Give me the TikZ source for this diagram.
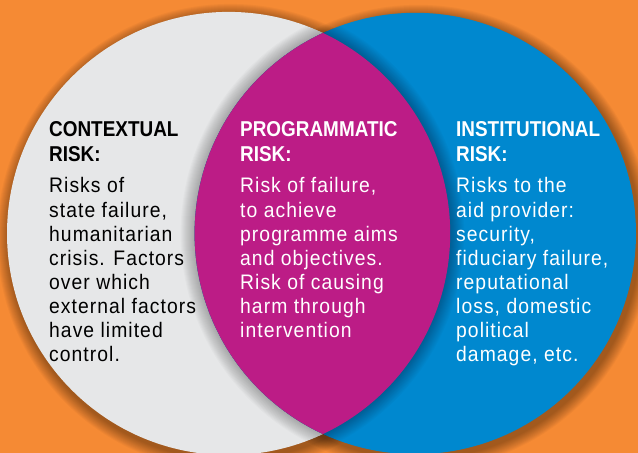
\documentclass[tikz,border=0pt]{standalone}
\usepackage{fontspec}
\usetikzlibrary{calc}
\setmainfont{Liberation Sans}
\newfontfamily\headfont{Liberation Sans Bold}[FakeStretch=0.88]
\newfontfamily\bodyfont{Liberation Sans}[FakeStretch=0.92,LetterSpace=5]
\definecolor{bgorange}{HTML}{F58A34}
\definecolor{ctxgray}{HTML}{E6E7E8}
\definecolor{progmag}{HTML}{BC1C86}
\definecolor{instblue}{HTML}{0088CF}
\tikzset{
  headtext/.style={anchor=base west, inner sep=0pt, font=\headfont\fontsize{21.5}{24.5}\selectfont},
  bodytext/.style={anchor=base west, inner sep=0pt, font=\bodyfont\fontsize{21}{24.1}\selectfont},
  outshadow/.style={fill=black, fill opacity=0.03},
  inshadow/.style={fill=black, fill opacity=0.02}
}
\begin{document}
\begin{tikzpicture}[x=1pt,y=1pt]
\fill[bgorange] (0,0) rectangle (638,453);
\useasboundingbox (0,0) rectangle (638,453);
\coordinate (c1) at (228.6,219.5);
\coordinate (c2) at (415.3,219.5);
\def\rA{221.6}
\def\rB{220.7}
% outer drop shadow
\foreach \k in {0,...,11}{
  \fill[outshadow] ($(c1)+(2,-4)$) circle ({\rA+12-\k});
  \fill[outshadow] ($(c2)+(3,-4)$) circle ({\rB+12-\k});
}
% gray circle
\fill[ctxgray] (c1) circle (\rA);
% shadow of blue edge on gray
\begin{scope}
  \clip (c1) circle (\rA);
  \foreach \k in {1,...,14}{\fill[inshadow] (c2) circle ({\rB+\k});}
\end{scope}
% blue circle
\fill[instblue] (c2) circle (\rB);
% shadow of gray edge on blue
\begin{scope}
  \clip (c2) circle (\rB);
  \foreach \k in {1,...,14}{\fill[inshadow] (c1) circle ({\rA+\k});}
\end{scope}
% magenta lens
\begin{scope}
  \clip (c1) circle (\rA);
  \fill[progmag] (c2) circle (\rB);
\end{scope}
% texts
\node[headtext, text=black] (ctxh) at (49,316) {\begin{tabular}[t]{@{}l@{}}CONTEXTUAL\\RISK:\end{tabular}};
\node[bodytext, text=black] (ctxb) at (49,260) {\begin{tabular}[t]{@{}l@{}}Risks of\\state failure,\\humanitarian\\crisis. Factors\\over which\\external factors\\have limited\\control.\end{tabular}};
\node[headtext, text=white] (progh) at (240,316) {\begin{tabular}[t]{@{}l@{}}PROGRAMMATIC\\RISK:\end{tabular}};
\node[bodytext, text=white] (progb) at (240,260) {\begin{tabular}[t]{@{}l@{}}Risk of failure,\\to achieve\\programme aims\\and objectives.\\Risk of causing\\harm through\\intervention\end{tabular}};
\node[headtext, text=white] (insth) at (456,316) {\begin{tabular}[t]{@{}l@{}}INSTITUTIONAL\\RISK:\end{tabular}};
\node[bodytext, text=white] (instb) at (456,260) {\begin{tabular}[t]{@{}l@{}}Risks to the\\aid provider:\\security,\\fiduciary failure,\\reputational\\loss, domestic\\political\\damage, etc.\end{tabular}};
\end{tikzpicture}
\end{document}
